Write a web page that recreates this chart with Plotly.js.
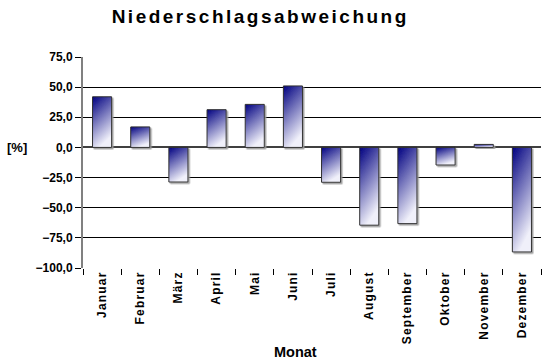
<!DOCTYPE html>
<html>
<head>
<meta charset="utf-8">
<script src="https://cdn.plot.ly/plotly-3.0.1.min.js"></script>
<style>body{margin:0;padding:0;background:#fff;}</style>
</head>
<body>
<div id="chart" style="width:549px;height:364px;"></div>
<script>
var months = ["Januar","Februar","März","April","Mai","Juni","Juli","August","September","Oktober","November","Dezember"];
var deviation = [42, 17, -28.7, 31.3, 35.7, 51, -28.9, -64.5, -63.2, -14.6, 2.5, -86.7];
var yTicks = [75, 50, 25, 0, -25, -50, -75, -100];

var FONT = "Liberation Sans, Arial, sans-serif";

var trace = {
  type: "bar",
  x: months,
  y: deviation,
  marker: {color: "#5a5fb0", line: {color: "#303030", width: 1}},
  hoverinfo: "x+y"
};

var layout = {
  width: 549, height: 364,
  margin: {l: 83, r: 8, t: 57, b: 96},
  paper_bgcolor: "#fff", plot_bgcolor: "#fff",
  separators: ",.",
  showlegend: false,
  bargap: 0.5,
  title: {
    text: "<b>Niederschlagsabweichung</b>",
    font: {family: FONT, size: 19, color: "#000"},
    x: 0.474, xref: "container", xanchor: "center",
    y: 0.972, yref: "container", yanchor: "top"
  },
  xaxis: {
    type: "category",
    tickangle: -90,
    tickson: "boundaries",
    ticks: "outside", ticklen: 6, tickcolor: "#000",
    tickfont: {family: FONT, size: 12, color: "#000", weight: "bold"},
    showline: false, showgrid: false, zeroline: false,
    automargin: false
  },
  yaxis: {
    range: [-100, 75],
    tickvals: yTicks,
    tickformat: ".1f",
    ticks: "outside", ticklen: 6, tickcolor: "#000",
    tickfont: {family: FONT, size: 12, color: "#000", weight: "bold"},
    showgrid: true, gridcolor: "#000", gridwidth: 1,
    zeroline: true, zerolinecolor: "#404040", zerolinewidth: 2,
    showline: true, linecolor: "#808080", linewidth: 2,
    automargin: false
  },
  annotations: [
    {text: "<b>[%]</b>", xref: "paper", yref: "paper", x: -0.144, y: 100/175,
     xanchor: "center", yanchor: "middle", showarrow: false,
     font: {family: FONT, size: 13, color: "#000"}},
    {text: "<b>Monat</b>", xref: "paper", yref: "paper", x: 0.463, y: -0.398,
     xanchor: "center", yanchor: "middle", showarrow: false,
     font: {family: FONT, size: 14.5, color: "#000"}}
  ]
};

Plotly.newPlot("chart", [trace], layout, {displayModeBar: false, staticPlot: true}).then(function(gd){
  var svgNS = "http://www.w3.org/2000/svg";
  var svg = gd.querySelector("svg.main-svg");
  var defs = svg.querySelector("defs");
  var grad = document.createElementNS(svgNS, "linearGradient");
  grad.setAttribute("id", "barGrad");
  grad.setAttribute("x1", "0"); grad.setAttribute("y1", "0");
  grad.setAttribute("x2", "0.35"); grad.setAttribute("y2", "1");
  [["0", "#000080"], ["1", "#f0f0fa"]].forEach(function(s){
    var st = document.createElementNS(svgNS, "stop");
    st.setAttribute("offset", s[0]); st.setAttribute("stop-color", s[1]);
    grad.appendChild(st);
  });
  defs.appendChild(grad);
  var filt = document.createElementNS(svgNS, "filter");
  filt.setAttribute("id", "barShadow");
  filt.setAttribute("x", "-20%"); filt.setAttribute("y", "-20%");
  filt.setAttribute("width", "150%"); filt.setAttribute("height", "150%");
  var ds = document.createElementNS(svgNS, "feDropShadow");
  ds.setAttribute("dx", "1.5"); ds.setAttribute("dy", "1.5");
  ds.setAttribute("stdDeviation", "0.4");
  ds.setAttribute("flood-color", "#999"); ds.setAttribute("flood-opacity", "0.9");
  filt.appendChild(ds);
  defs.appendChild(filt);
  gd.querySelectorAll(".trace.bars .point path").forEach(function(p){
    p.style.fill = "url(#barGrad)";
    p.setAttribute("filter", "url(#barShadow)");
  });
  var t = gd.querySelector(".gtitle");
  if (t) t.setAttribute("letter-spacing", "2.5px");
  gd.querySelectorAll(".xtick text").forEach(function(el){
    el.setAttribute("letter-spacing", "1.2px");
  });
});
</script>
</body>
</html>
